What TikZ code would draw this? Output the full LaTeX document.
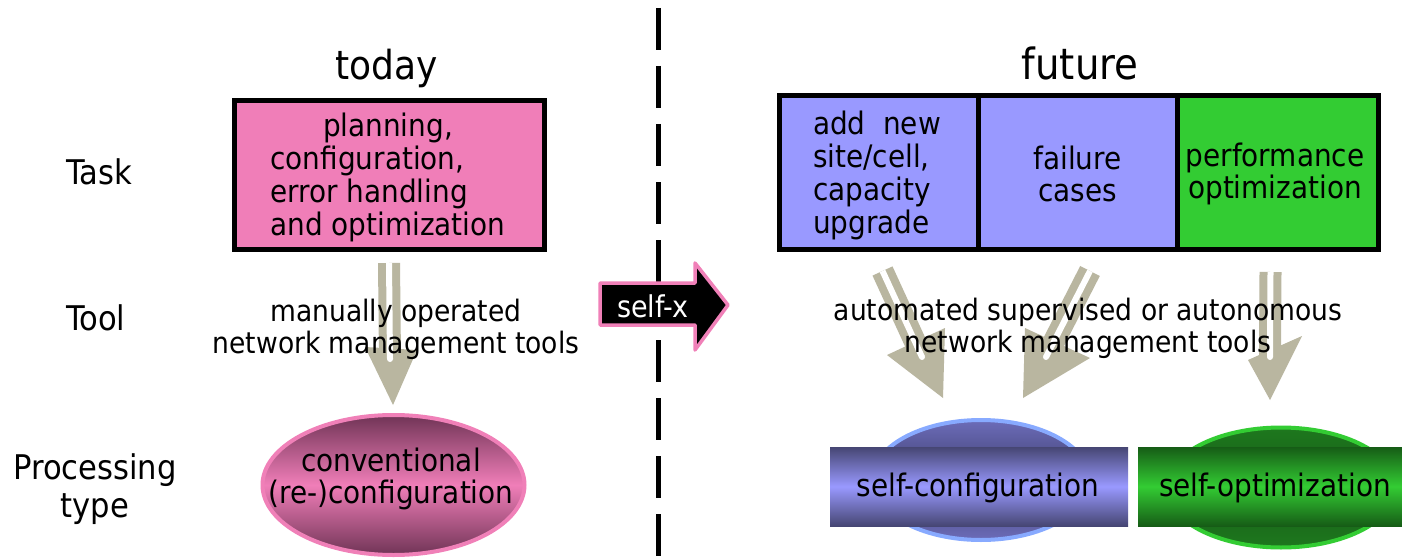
\documentclass[tikz,border=0pt]{standalone}
\usepackage{fontspec}
\setmainfont{DejaVu Sans Condensed}
\usetikzlibrary{calc,shapes.geometric}
\definecolor{pinkbox}{RGB}{240,126,184}
\definecolor{pinkline}{RGB}{240,128,184}
\definecolor{maroon}{RGB}{112,52,86}
\definecolor{lav}{RGB}{153,153,255}
\definecolor{lavdark}{RGB}{70,70,115}
\definecolor{blueline}{RGB}{136,170,255}
\definecolor{bluecap}{RGB}{108,108,185}
\definecolor{bluecapdark}{RGB}{62,62,110}
\definecolor{grn}{RGB}{51,204,51}
\definecolor{grndark}{RGB}{22,92,22}
\definecolor{grncap}{RGB}{30,120,30}
\definecolor{khaki}{RGB}{185,182,160}
% #1 shaft start, #2 tip, #3 and #4 head corners, #5 end of the white gap
\newcommand{\khakiarrow}[5]{%
  \draw[khaki, line width=22pt] (#1) -- (#5);
  \fill[khaki] (#3) -- (#2) -- (#4) -- cycle;
  \draw[white, line width=6pt] (#1) -- (#5);
  \fill[white] (#5) circle (3pt);
}
\tikzset{
  txt/.style={font=\fontsize{31}{32}\selectfont, inner sep=0pt, align=center},
  tooltxt/.style={font=\fontsize{29.5}{32}\selectfont, inner sep=0pt, align=center},
  labeltxt/.style={font=\fontsize{34}{38}\selectfont, inner sep=0pt, align=center},
  bigtxt/.style={inner sep=0pt},
  taskbox/.style={draw, line width=5pt, inner sep=0pt},
  capell/.style={ellipse, draw, line width=4pt, inner sep=0pt},
  flatbox/.style={rectangle, inner sep=0pt},
}
\begin{document}
\begin{tikzpicture}[x=1pt,y=-1pt]
\useasboundingbox (0,0) rectangle (1402,559);
\fill[white] (0,0) rectangle (1402,559);

% dashed separator
\draw[line width=5pt, dash pattern=on 42pt off 16pt] (658,8) -- (658,290);
\draw[line width=5pt, dash pattern=on 42pt off 16pt] (658,340) -- (658,556);

% row labels
\node[labeltxt] (task) at (99,172) {Task};
\node[labeltxt] (tool) at (96,318) {Tool};
\node[labeltxt] (ptype) at (95,489) {Processing\\type};

% today
\node[bigtxt, font=\fontsize{40}{44}\selectfont] (today) at (387,68) {today};
\node[taskbox, fill=pinkbox, minimum width=310pt, minimum height=149pt] (todaybox) at (389.5,175) {};
\node[txt] (todaytxt) at (388,179)
  {\begin{tabular}{@{}l@{}}\multicolumn{1}{@{}c@{}}{planning,}\\configuration,\\error handling\\and optimization\end{tabular}};

% future
\node[bigtxt, font=\fontsize{43}{46}\selectfont] (future) at (1080,63) {future};
\node[taskbox, fill=lav, minimum width=199pt, minimum height=153pt] (c1) at (878.5,172.5) {};
\node[taskbox, fill=lav, minimum width=199pt, minimum height=153pt] (c2) at (1077.5,172.5) {};
\node[taskbox, fill=grn, minimum width=201pt, minimum height=153pt] (c3) at (1277.5,172.5) {};
\node[txt] (c1txt) at (877,177)
  {\begin{tabular}{@{}l@{}}add\ \ new\\site/cell,\\capacity\\upgrade\end{tabular}};
\node[txt] (c2txt) at (1077.5,174) {failure\\cases};
\node[txt] (c3txt) at (1275,174) {performance\\optimization};

% processing type shapes
\node[capell, draw=pinkline, top color=maroon, bottom color=maroon, middle color=pinkbox,
      minimum width=262pt, minimum height=140pt] (conv) at (393.5,485) {};
\node[txt] (convtxt) at (391,479) {conventional\\(re-)configuration};
\node[capell, draw=blueline, top color=bluecap, bottom color=bluecap, middle color=bluecapdark,
      minimum width=218pt, minimum height=120pt] (scell) at (981,480) {};
\node[flatbox, top color=lavdark, bottom color=lavdark, middle color=lav,
      minimum width=298pt, minimum height=79pt] (sconf) at (979,486.5) {};
\node[txt] (sconftxt) at (978,488) {self-configuration};
\node[capell, draw=grn, top color=grncap, bottom color=grncap, middle color=grndark,
      minimum width=230pt, minimum height=120pt] (ocell) at (1281,487.5) {};
\node[flatbox, top color=grndark, bottom color=grndark, middle color=grn,
      minimum width=264pt, minimum height=79pt] (sopt) at (1270,486.5) {};
\node[txt] (sopttxt) at (1275,488) {self-optimization};

% khaki arrows
\coordinate (a0s) at (389,263);   \coordinate (a0t) at (393,405);
\coordinate (a0l) at (365,347);   \coordinate (a0r) at (417,350);  \coordinate (a0n) at (390,359);
\coordinate (a1s) at (882.5,271); \coordinate (a1t) at (943,398);
\coordinate (a1l) at (887,355);   \coordinate (a1r) at (945,328);  \coordinate (a1n) at (922,357);
\coordinate (a2s) at (1090,271);  \coordinate (a2t) at (1023,398);
\coordinate (a2l) at (1025,328);  \coordinate (a2r) at (1090,358); \coordinate (a2n) at (1046,357);
\coordinate (a3s) at (1270.5,272); \coordinate (a3t) at (1270,400);
\coordinate (a3l) at (1248,360);  \coordinate (a3r) at (1302,336); \coordinate (a3n) at (1270,357);
\khakiarrow{a0s}{a0t}{a0l}{a0r}{a0n}
\khakiarrow{a1s}{a1t}{a1l}{a1r}{a1n}
\khakiarrow{a2s}{a2t}{a2l}{a2r}{a2n}
\khakiarrow{a3s}{a3t}{a3l}{a3r}{a3n}

% tool texts
\node[tooltxt] (tooll) at (396,329) {manually operated\\network management tools};
\node[tooltxt] (toolr) at (1088,328) {automated supervised or autonomous\\network management tools};

% self-x arrow
\fill[black] (600,283) -- (695,283) -- (695,263) -- (728,305) -- (695,350) -- (695,325) -- (600,325) -- cycle;
\draw[pinkline, line width=3.5pt, line join=round] (600,283) -- (695,283) -- (695,263) -- (728,305) -- (695,350) -- (695,325) -- (600,325) -- cycle;
\node[txt, text=white, font=\fontsize{30}{32}\selectfont] (selfx) at (653,306) {self-x};
\end{tikzpicture}
\end{document}
